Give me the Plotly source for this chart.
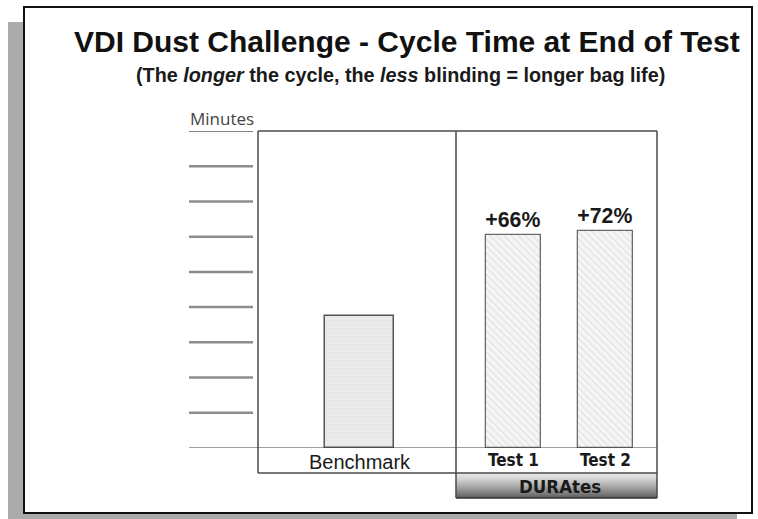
import plotly.graph_objects as go

# ---------------- data ----------------
left_categories = ["Benchmark"]
right_categories = ["Test 1", "Test 2"]
benchmark_values = [3.75]
durates_values = [6.05, 6.16]
durates_labels = ["+66%", "+72%"]
group_label = "DURAtes"
gridline_values = [1, 2, 3, 4, 5, 6, 7, 8, 9]
y_label = "Minutes"
title_text = "VDI Dust Challenge - Cycle Time at End of Test"
subtitle_text = "(The <i>longer</i> the cycle, the <i>less</i> blinding = longer bag life)"

# ---------------- layout geometry (pixels) ----------------
W, H = 758, 519
PL, PR, PT, PB = 258, 657, 131, 448  # plot area edges
PW, PH = PR - PL, PB - PT
DIV = 456
COND = "Liberation Sans Narrow, DejaVu Sans Condensed, Liberation Sans"


def px(x):
    return (x - PL) / PW


def py(y):
    return (PB - y) / PH


fig = go.Figure()

fig.add_trace(go.Bar(
    x=left_categories, y=benchmark_values, xaxis="x", yaxis="y",
    width=0.35,
    marker=dict(color="#e9e9e9",
                line=dict(color="#555555", width=1.5),
                pattern=dict(shape="-", fgcolor="#d6d6d6", bgcolor="#ececec",
                             size=4, solidity=0.25)),
    showlegend=False, hoverinfo="skip",
))

fig.add_trace(go.Bar(
    x=right_categories, y=durates_values, xaxis="x2", yaxis="y",
    width=0.6,
    text=durates_labels, textposition="outside", cliponaxis=False,
    textfont=dict(family="Liberation Sans", size=26.5, color="#1a1a1a", weight="bold"),
    marker=dict(color="#f3f3f3",
                line=dict(color="#6a6a6a", width=1.3),
                pattern=dict(shape="\\", fgcolor="#c4c4c4", bgcolor="#f5f5f5",
                             size=5, solidity=0.2)),
    showlegend=False, hoverinfo="skip",
))

shapes = []
# drop shadow and frame
shapes.append(dict(type="rect", xref="paper", yref="paper",
                   x0=px(8), x1=px(737), y0=py(540), y1=py(22),
                   fillcolor="#ababab", line=dict(width=0), layer="below"))
shapes.append(dict(type="rect", xref="paper", yref="paper",
                   x0=px(24), x1=px(752), y0=py(513), y1=py(7),
                   fillcolor="white", line=dict(color="#111111", width=2), layer="below"))

# short gridline marks left of the plot
for v in gridline_values:
    top = v == gridline_values[-1]
    shapes.append(dict(type="line", xref="paper", yref="y",
                       x0=px(189), x1=px(253), y0=v, y1=v,
                       line=dict(color="#5a5a5a" if top else "#8c8c8c",
                                 width=1.6 if top else 2.5)))

# DURAtes gradient box
n = 25
for i in range(n):
    t = i / (n - 1)
    g = int(round(0xe6 - (0xe6 - 0x5e) * (t ** 1.3)))
    col = "#%02x%02x%02x" % (g, g, g)
    shapes.append(dict(type="rect", xref="paper", yref="paper",
                       x0=px(DIV), x1=1, y0=py(473 + i + 1), y1=py(473 + i),
                       fillcolor=col, line=dict(width=0), layer="below"))

line_col = "#4a4a4a"
# baseline
shapes.append(dict(type="line", xref="paper", yref="y", x0=px(189), x1=1, y0=0, y1=0,
                   line=dict(color="#444444", width=1.2)))
# plot box
shapes.append(dict(type="line", xref="paper", yref="paper", x0=0, x1=1, y0=1, y1=1,
                   line=dict(color=line_col, width=1.5)))
shapes.append(dict(type="line", xref="paper", yref="paper", x0=0, x1=0, y0=py(473), y1=1,
                   line=dict(color=line_col, width=1.5)))
shapes.append(dict(type="line", xref="paper", yref="paper", x0=px(DIV), x1=px(DIV), y0=py(498), y1=1,
                   line=dict(color=line_col, width=1.5)))
shapes.append(dict(type="line", xref="paper", yref="paper", x0=1, x1=1, y0=py(498), y1=1,
                   line=dict(color=line_col, width=1.5)))
shapes.append(dict(type="line", xref="paper", yref="paper", x0=0, x1=1, y0=py(473), y1=py(473),
                   line=dict(color=line_col, width=1.5)))
shapes.append(dict(type="line", xref="paper", yref="paper", x0=px(DIV), x1=1, y0=py(498), y1=py(498),
                   line=dict(color="#333333", width=1.5)))

annotations = [
    dict(text="<b>" + title_text + "</b>", xref="paper", yref="paper",
         x=px(407), y=py(41), xanchor="center", yanchor="middle", showarrow=False,
         font=dict(family="Liberation Sans", size=30, color="#111111")),
    dict(text="<b>" + subtitle_text + "</b>", xref="paper", yref="paper",
         x=px(400), y=py(75), xanchor="center", yanchor="middle", showarrow=False,
         font=dict(family="Liberation Sans", size=19.8, color="#1a1a1a")),
    dict(text=y_label, xref="paper", yref="paper",
         x=px(188), y=py(132), xanchor="left", yanchor="bottom", showarrow=False,
         font=dict(family="Open Sans", size=17, color="#444444")),
    dict(text="<b>" + group_label + "</b>", xref="paper", yref="paper",
         x=px(560), y=py(486), xanchor="center", yanchor="middle", showarrow=False,
         font=dict(family=COND, size=18.5, color="#1a1a1a")),
]

fig.update_layout(
    width=W, height=H,
    margin=dict(l=PL, r=W - PR, t=PT, b=H - PB, pad=0),
    paper_bgcolor="white", plot_bgcolor="rgba(0,0,0,0)",
    shapes=shapes, annotations=annotations,
    xaxis=dict(domain=[0, px(DIV)], type="category",
               range=[-(359.5 - PL) / 198, (DIV - 359.5) / 198],
               showgrid=False, zeroline=False, showline=False, ticks="",
               tickfont=dict(family="Liberation Sans", size=20, color="#1a1a1a")),
    xaxis2=dict(domain=[px(DIV), 1], type="category", anchor="y",
                range=[-(513.5 - DIV) / 92, 1 + (PR - 605.5) / 92],
                showgrid=False, zeroline=False, showline=False, ticks="",
                tickfont=dict(family=COND, size=17, color="#1a1a1a", weight="bold")),
    yaxis=dict(range=[0, 9], showgrid=False, zeroline=False, showline=False,
               showticklabels=False, ticks=""),
    bargap=0,
)

fig.write_html(
    "out.html",
    config={"displayModeBar": False},
    post_script="document.body.style.margin='0';document.documentElement.style.overflow='hidden';",
)
